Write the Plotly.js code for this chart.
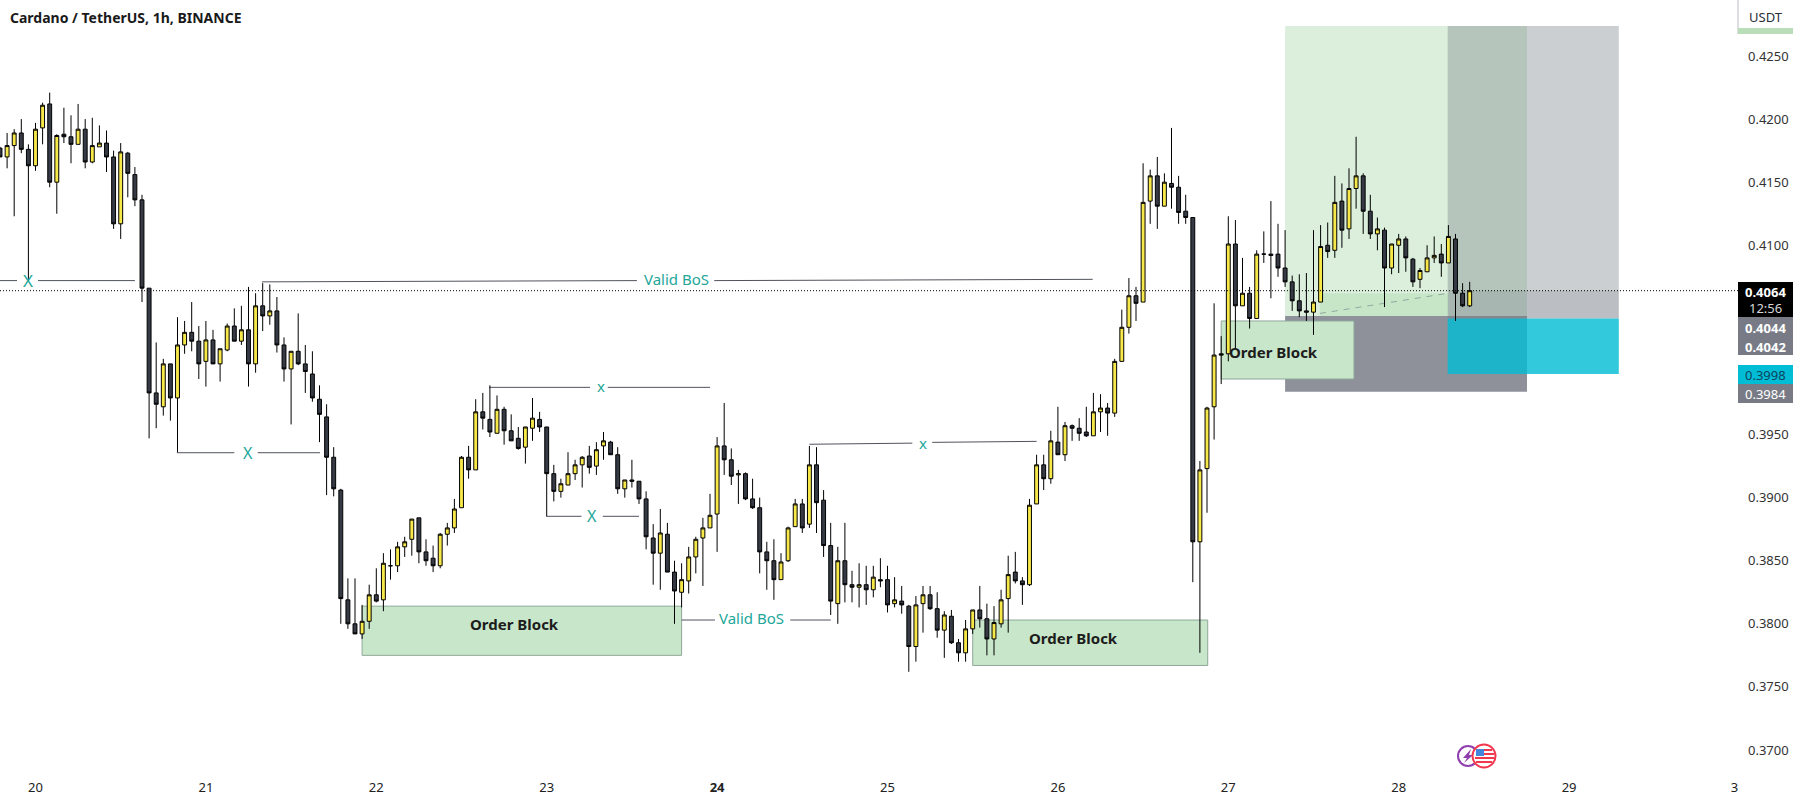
<!DOCTYPE html>
<html><head><meta charset="utf-8">
<script src="https://cdn.plot.ly/plotly-3.0.1.min.js"></script>
<style>html,body{margin:0;padding:0;background:#fff}#c{width:1801px;height:803px}</style></head>
<body><div id="c"></div>
<script>
const open=[.4177,.4170,.4179,.4189,.4176,.4163,.4193,.4212,.4150,.4188,
.4186,.4180,.4192,.4166,.4178,.4181,.4170,.4117,.4173,.4156,
.4136,.4066,.3983,.3972,.4006,.3979,.4021,.4031,.4024,.4008,
.4025,.4006,.4017,.4036,.4024,.4033,.4006,.4052,.4044,.4048,
.4021,.4002,.4016,.4006,.3998,.3978,.3964,.3932,.3906,.3819,
.3800,.3792,.3802,.3823,.3819,.3846,.3846,.3861,.3867,.3884,
.3857,.3852,.3846,.3871,.3876,.3892,.3932,.3922,.3968,.3962,
.3951,.3970,.3953,.3947,.3940,.3955,.3962,.3956,.3919,.3905,
.3910,.3919,.3926,.3933,.3925,.3941,.3944,.3934,.3907,.3914,
.3913,.3899,.3868,.3856,.3871,.3841,.3825,.3834,.3853,.3868,
.3876,.3887,.3941,.3930,.3918,.3919,.3899,.3892,.3857,.3850,
.3835,.3850,.3877,.3895,.3879,.3926,.3898,.3862,.3816,.3850,
.3831,.3829,.3831,.3827,.3835,.3835,.3816,.3818,.3814,.3782,
.3816,.3823,.3812,.3795,.3806,.3785,.3777,.3796,.3811,.3804,
.3788,.3800,.3820,.3841,.3834,.3831,.3895,.3926,.3915,.3944,
.3934,.3957,.3955,.3952,.3949,.3968,.3971,.3967,.4008,.4035,
.4060,.4055,.4135,.4155,.4131,.4149,.4146,.4127,.4122,.3865,
.3923,.3972,.4014,.4014,.4101,.4052,.4062,.4042,.4093,.4093,
.4093,.4082,.4071,.4056,.4048,.4047,.4055,.4100,.4096,.4135,
.4113,.4145,.4155,.4127,.4109,.4112,.4082,.4100,.4105,.4089,
.4073,.4079,.4090,.4093,.4086,.4105,.4062,.4052];
const high=[.4178,.4189,.4192,.4200,.4180,.4197,.4213,.4221,.4188,.4209,
.4203,.4212,.4200,.4201,.4195,.4191,.4175,.4181,.4174,.4162,
.4140,.4066,.4023,.4010,.4006,.4043,.4040,.4055,.4036,.4040,
.4033,.4018,.4038,.4050,.4052,.4067,.4062,.4070,.4069,.4059,
.4027,.4016,.4046,.4021,.4016,.3989,.3974,.3940,.3907,.3836,
.3836,.3815,.3831,.3844,.3856,.3859,.3865,.3869,.3883,.3884,
.3867,.3862,.3872,.3880,.3899,.3933,.3941,.3978,.3983,.3989,
.3981,.3972,.3966,.3956,.3956,.3979,.3968,.3956,.3926,.3915,
.3936,.3930,.3933,.3941,.3944,.3952,.3945,.3940,.3914,.3930,
.3913,.3905,.3879,.3891,.3880,.3850,.3848,.3861,.3869,.3884,
.3903,.3948,.3975,.3939,.3922,.3920,.3915,.3900,.3865,.3867,
.3856,.3877,.3899,.3899,.3941,.3940,.3906,.3880,.3861,.3880,
.3842,.3848,.3846,.3846,.3852,.3846,.3837,.3830,.3815,.3822,
.3830,.3830,.3825,.3810,.3811,.3788,.3803,.3811,.3830,.3816,
.3814,.3827,.3854,.3857,.3837,.3899,.3934,.3934,.3953,.3972,
.3960,.3958,.3963,.3972,.3983,.3982,.3975,.4010,.4049,.4074,
.4067,.4165,.4160,.4170,.4157,.4193,.4155,.4140,.4122,.3929,
.3972,.4054,.4028,.4123,.4120,.4090,.4067,.4096,.4111,.4135,
.4117,.4112,.4076,.4077,.4078,.4112,.4116,.4118,.4155,.4149,
.4161,.4186,.4157,.4140,.4122,.4114,.4101,.4109,.4107,.4090,
.4082,.4100,.4107,.4101,.4116,.4109,.4070,.4071];
const low=[.4170,.4161,.4123,.4173,.4072,.4159,.4180,.4146,.4125,.4181,
.4165,.4180,.4161,.4165,.4178,.4158,.4113,.4105,.4138,.4131,
.4055,.3947,.3955,.3965,.3961,.3936,.4014,.4016,.3994,.3988,
.4006,.3992,.4016,.4024,.4021,.3988,.3999,.4032,.4037,.4015,
.3992,.3958,.4005,.3983,.3976,.3944,.3902,.3901,.3800,.3796,
.3792,.3788,.3796,.3817,.3810,.3835,.3841,.3853,.3854,.3848,
.3846,.3841,.3844,.3862,.3872,.3892,.3915,.3922,.3954,.3948,
.3951,.3942,.3945,.3938,.3927,.3945,.3952,.3885,.3897,.3900,
.3910,.3914,.3908,.3919,.3918,.3930,.3934,.3903,.3900,.3908,
.3895,.3859,.3831,.3827,.3841,.3800,.3813,.3824,.3840,.3830,
.3876,.3857,.3918,.3910,.3895,.3898,.3891,.3840,.3827,.3819,
.3835,.3849,.3877,.3872,.3876,.3872,.3853,.3807,.3800,.3817,
.3817,.3813,.3815,.3821,.3829,.3809,.3813,.3808,.3762,.3770,
.3793,.3811,.3789,.3773,.3784,.3770,.3770,.3792,.3797,.3775,
.3775,.3797,.3793,.3832,.3815,.3830,.3895,.3906,.3911,.3934,
.3929,.3945,.3945,.3948,.3949,.3952,.3949,.3964,.4008,.4030,
.4040,.4055,.4117,.4113,.4131,.4129,.4117,.4117,.3833,.3777,
.3888,.3946,.3990,.4008,.4018,.4052,.4034,.4042,.4086,.4058,
.4075,.4067,.4048,.4043,.4040,.4029,.4055,.4090,.4090,.4098,
.4105,.4129,.4109,.4105,.4096,.4051,.4077,.4078,.4079,.4067,
.4066,.4079,.4086,.4075,.4086,.4040,.4051,.4051];
const close=[.4170,.4179,.4189,.4176,.4163,.4192,.4211,.4150,.4187,.4186,
.4180,.4192,.4166,.4179,.4181,.4170,.4117,.4174,.4157,.4136,
.4066,.3983,.3974,.4006,.3979,.4021,.4031,.4024,.4006,.4025,
.4006,.4018,.4036,.4024,.4033,.4006,.4052,.4044,.4048,.4021,
.4002,.4016,.4006,.4000,.3979,.3966,.3932,.3907,.3820,.3800,
.3792,.3802,.3823,.3818,.3848,.3846,.3861,.3865,.3883,.3857,
.3850,.3846,.3871,.3876,.3891,.3932,.3922,.3968,.3963,.3952,
.3970,.3953,.3945,.3939,.3956,.3963,.3956,.3919,.3905,.3911,
.3919,.3926,.3932,.3924,.3938,.3945,.3934,.3907,.3914,.3913,
.3899,.3869,.3856,.3872,.3841,.3826,.3835,.3853,.3867,.3876,
.3886,.3941,.3930,.3917,.3919,.3899,.3892,.3857,.3850,.3835,
.3849,.3876,.3895,.3876,.3926,.3896,.3862,.3818,.3850,.3831,
.3829,.3831,.3827,.3837,.3834,.3815,.3819,.3815,.3782,.3815,
.3823,.3812,.3795,.3807,.3785,.3777,.3796,.3811,.3804,.3788,
.3801,.3819,.3839,.3834,.3831,.3894,.3926,.3915,.3945,.3934,
.3957,.3955,.3951,.3949,.3968,.3971,.3967,.4008,.4035,.4060,
.4054,.4134,.4155,.4131,.4150,.4146,.4126,.4122,.3865,.3922,
.3971,.4013,.4013,.4101,.4052,.4062,.4042,.4093,.4093,.4092,
.4082,.4071,.4056,.4048,.4047,.4055,.4099,.4095,.4134,.4112,
.4145,.4155,.4127,.4109,.4113,.4082,.4101,.4105,.4090,.4071,
.4080,.4090,.4092,.4086,.4107,.4062,.4052,.4064];
const hours=open.map((_,i)=>i);

const dayTicks=[5,29,53,77,101,125,149,173,197,221,244.3];
const dayLabels=['20','21','22','23','<b>24</b>','25','26','27','28','29','3'];
const priceTicks=[.425,.42,.415,.41,.395,.39,.385,.38,.375,.37];
const priceLabels=['0.4250','0.4200','0.4150','0.4100','0.3950','0.3900','0.3850','0.3800','0.3750','0.3700'];

const lastPrice=.4064, entryA=.4044, stopA=.3984, entryB=.4042, targetB=.3998, topPrice=.42738;
const orderBlocks=[[51,96,.3814,.3775],[137,170.1,.3803,.3767],[172,190.7,.4040,.3994]];
const blockLabels=[[72.5,.37995,'Order Block'],[151.2,.37885,'Order Block'],[179.4,.40155,'Order Block']];
const levelSegments=[
 [0,2.4,.4072,.4072],[5.35,19,.4072,.4072],
 [36.9,89.7,.4071,.4072],[100.6,153.9,.4072,.4073],
 [24.9,33,.39356,.39356],[36.3,45.07,.39356,.39356],
 [68.9,83.1,.39874,.39874],[85.6,100,.39874,.39874],
 [77,81.9,.38852,.38852],[84.9,90,.38852,.38852],
 [96,100.7,.3803,.3803],[111.3,117,.3803,.3803],
 [114,128.5,.39423,.39432],[131.3,146,.39438,.39446]];
const levelLabels=[[3.9,.4072,'X',17],[95.3,.40732,'Valid BoS',15],[34.9,.39356,'X',16],[84.6,.39884,'x',15],
 [83.4,.38852,'X',16],[105.9,.38045,'Valid BoS',15],[130,.39435,'x',15]];

const PW=1738,PH=770;
const px=v=>v/PW, py=v=>1-v/PH;
const rectD=(x0,x1,y0,y1,fill,line)=>({type:'rect',xref:'x',yref:'y',x0,x1,y0,y1,fillcolor:fill,line:line||{width:0},layer:'below'});
const rectP=(a,b,c,d,fill)=>({type:'rect',xref:'paper',yref:'paper',x0:px(a),x1:px(b),y0:py(c),y1:py(d),fillcolor:fill,line:{width:0},layer:'above'});
const circ=(cx,cy,r,line,fill)=>({type:'circle',xref:'paper',yref:'paper',x0:px(cx-r),x1:px(cx+r),y0:py(cy+r),y1:py(cy-r),fillcolor:fill,line:{color:line,width:2},layer:'above'});
const pathP=(pts,fill)=>({type:'path',xref:'paper',yref:'paper',path:'M'+pts.map(p=>px(p[0])+' '+py(p[1])).join('L')+'Z',fillcolor:fill,line:{width:0},layer:'above'});

const shapes=[
 rectD(181,215.07,entryA,topPrice,'rgba(76,175,80,.2)'),
 rectD(181,215.07,stopA,entryA,'rgba(120,123,134,.83)'),
 rectD(185.9,204,entryA,.4062,'rgba(76,175,80,.14)'),
 rectD(203.9,228,entryB,topPrice,'rgba(118,126,134,.37)'),
 rectD(204,228,entryB,lastPrice,'rgba(120,123,134,.2)'),
 rectD(203.9,228,targetB,entryB,'rgba(0,188,212,.8)'),
 ...orderBlocks.map(b=>rectD(b[0],b[1],b[2],b[3],'#c8e6c9',{color:'#90a89b',width:1})),
 {type:'line',xref:'x',yref:'y',x0:185.9,x1:204,y0:.4046,y1:.4062,line:{color:'#8fa89f',width:1,dash:'6px,6px'},layer:'below'},
 ...levelSegments.map(s=>({type:'line',xref:'x',yref:'y',x0:s[0],x1:s[1],y0:s[2],y1:s[3],line:{color:'#50535c',width:1},layer:'below'})),
 {type:'line',xref:'paper',yref:'y',x0:0,x1:1,y0:lastPrice,y1:lastPrice,line:{color:'#000',width:1,dash:'1px,2px'},layer:'above'},
 {type:'line',xref:'paper',yref:'paper',x0:1,x1:1,y0:py(0),y1:py(34),line:{color:'#b8bcc4',width:1},layer:'above'},
 rectP(1738,1793,28,34,'#b9ddb9'),
 rectP(1738,1793,282,317,'#000000'),
 rectP(1738,1793,317,355,'#787b86'),
 rectP(1738,1793,365,384,'#00bcd4'),
 rectP(1738,1793,384,403,'#787b86'),
 circ(1468,756,10,'#8e3fae','#ffffff'),
 pathP([[1471,749],[1463,758],[1467,758],[1464,763],[1473,755],[1469,755]],'#8e3fae'),
 circ(1484,756,11.5,'#f0384f','#ffffff'),
 rectP(1484,1492,749,751,'#f0384f'),rectP(1484,1494,753,755,'#f0384f'),
 rectP(1475,1494,757,759,'#f0384f'),rectP(1476,1492,761,763,'#f0384f'),
 rectP(1476,1484,749,756,'#3f86dc')
];
const tag=(x,y,t,c,b,s)=>({xref:'paper',yref:'paper',x:px(x),y:py(y),text:b?'<b>'+t+'</b>':t,showarrow:false,xanchor:'center',yanchor:'middle',font:{family:'Noto Sans',size:s||13,color:c}});
const annotations=[
 ...blockLabels.map(b=>({x:b[0],y:b[1],text:'<b>'+b[2]+'</b>',showarrow:false,font:{family:'Noto Sans',size:15,color:'#1c1c1c'}})),
 ...levelLabels.map(b=>({x:b[0],y:b[1],text:b[2],showarrow:false,font:{family:'Noto Sans',size:b[3],color:'#22a699'}})),
 tag(1766,16.5,'USDT','#2a2e39',false,13),
 tag(1766,292,'0.4064','#ffffff',true),
 tag(1766,308,'12:56','#d8d8d8',false),
 tag(1766,328,'0.4044','#ffffff',true),
 tag(1766,347,'0.4042','#ffffff',true),
 tag(1766,374.5,'0.3998','#0d4460',false),
 tag(1766,393.5,'0.3984','#ffffff',false)
];
const fill={up:'#f7e84a',down:'#363a45'};
Plotly.newPlot('c',[{
 type:'candlestick',x:hours,open,high,low,close,whiskerwidth:0,hoverinfo:'skip',
 increasing:{line:{color:'#000',width:1},fillcolor:fill.up},
 decreasing:{line:{color:'#000',width:1},fillcolor:fill.down}
}],{
 width:1801,height:803,paper_bgcolor:'#fff',plot_bgcolor:'#fff',showlegend:false,
 margin:{l:0,r:63,t:0,b:33,pad:0},boxgap:.45,boxgroupgap:0,
 title:{text:'<b>Cardano / TetherUS, 1h, BINANCE</b>',x:10/1801,xanchor:'left',y:1-18/803,yanchor:'middle',font:{family:'Noto Sans',size:14,color:'#1a1a1a'}},
 xaxis:{type:'linear',range:[0,PW/7.1],rangeslider:{visible:false},showgrid:false,zeroline:false,showline:false,
  tickmode:'array',tickvals:dayTicks,ticktext:dayLabels,ticks:'',ticklabelstandoff:8,tickfont:{family:'Noto Sans',size:13,color:'#222'}},
 yaxis:{type:'linear',side:'right',range:[.368415,.429438],showgrid:false,zeroline:false,showline:false,
  tickmode:'array',tickvals:priceTicks,ticktext:priceLabels,ticks:'',ticklabelstandoff:9,tickfont:{family:'Noto Sans',size:13,color:'#333'}},
 shapes,annotations
},{staticPlot:true});
</script></body></html>
